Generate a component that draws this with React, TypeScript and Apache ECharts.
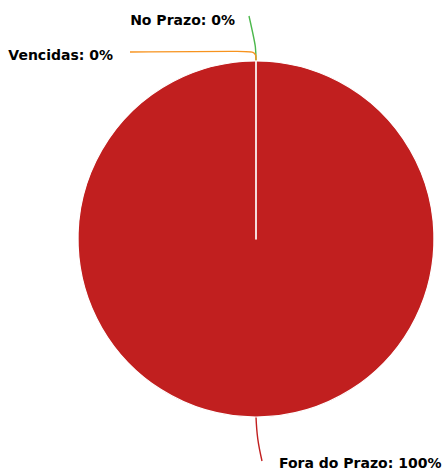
import React, { useEffect, useRef } from "react";
import * as echarts from "echarts";

const categories = ["Fora do Prazo", "No Prazo", "Vencidas"];
const values = [100, 0, 0];
const colors = ["#c11f1f", "#4cb84c", "#f7931e"];

const CX = 256;
const CY = 239;
const R = 178;

// label placement relative to pie centre, alignment, and connector bends
const labelSpecs = [
  { x: CX + 23, y: CY + 224, align: "left", line: [[0, R], [1, R + 22], [6, R + 44]] },
  { x: CX - 21, y: CY - 219, align: "right", line: [[0, -R], [0, -R - 14], [-7, -R - 45]] },
  { x: CX - 143, y: CY - 184, align: "right", line: [[0, -R], [0, -R - 10], [-126, -R - 9]] },
];

export default function App() {
  const ref = useRef<HTMLDivElement>(null);
  useEffect(() => {
    if (!ref.current) return;
    const chart = echarts.init(ref.current, null, { renderer: "svg" });
    chart.setOption({
      animation: false,
      backgroundColor: "#ffffff",
      series: [
        {
          type: "pie",
          center: [CX, CY],
          radius: R,
          startAngle: 90,
          clockwise: true,
          avoidLabelOverlap: false,
          data: categories.map((name, i) => ({
            name,
            value: values[i],
            itemStyle: { color: colors[i] },
            labelLine: { lineStyle: { color: colors[i], width: 1.4 } },
          })),
          itemStyle: { borderColor: "#ffffff", borderWidth: 1.2 },
          label: {
            show: true,
            formatter: (p: any) => `${p.name}: ${Math.round(p.percent)}%`,
            fontFamily: "DejaVu Sans",
            fontWeight: "bold",
            fontSize: 14,
            color: "#000000",
            textBorderColor: "#ffffff",
            textBorderWidth: 2,
          },
          labelLine: { show: true, smooth: 0.4 },
          labelLayout: (params: any) => {
            const s = labelSpecs[params.dataIndex];
            return {
              x: s.x,
              y: s.y,
              align: s.align,
              verticalAlign: "middle",
              labelLinePoints: s.line.map(([dx, dy]) => [CX + dx, CY + dy]),
            };
          },
          emphasis: { disabled: true },
        },
      ],
    });
    return () => chart.dispose();
  }, []);
  return (
    <div
      ref={ref}
      style={{ position: "fixed", left: 0, top: 0, width: 445, height: 473 }}
    />
  );
}
